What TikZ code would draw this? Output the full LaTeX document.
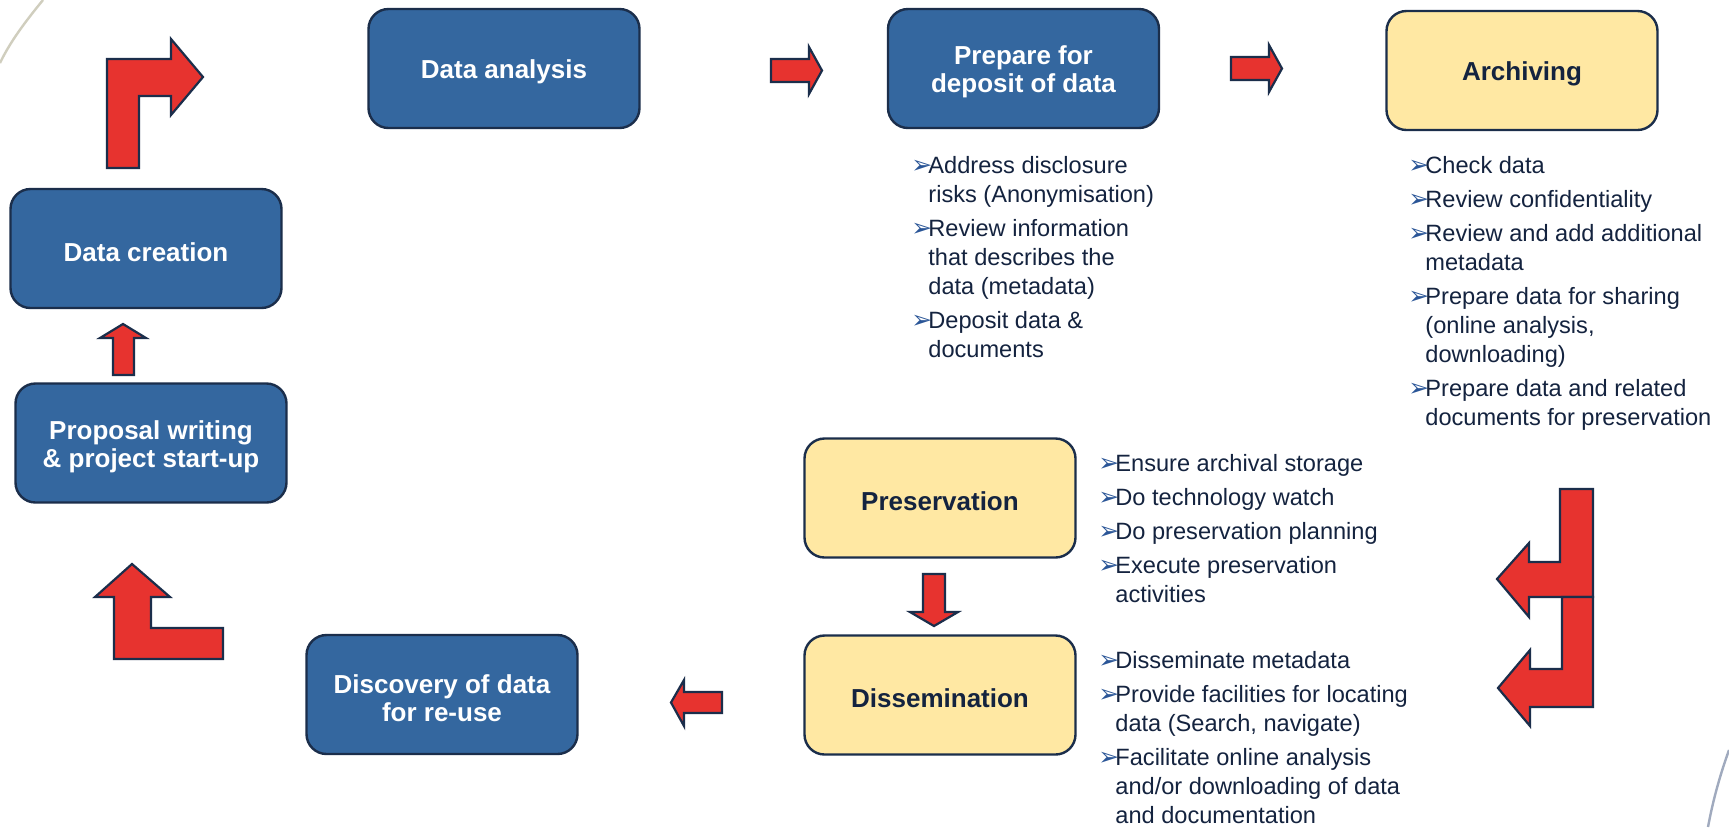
\documentclass[tikz,border=0pt]{standalone}
\usepackage{fontspec}
\setmainfont{Liberation Sans}
\newfontfamily\djfont{DejaVu Sans}
\definecolor{boxblue}{HTML}{34679F}
\definecolor{boxline}{HTML}{1B2E4B}
\definecolor{boxyellow}{HTML}{FFE8A3}
\definecolor{navytext}{HTML}{14233F}
\definecolor{arrowred}{HTML}{E7332F}
\definecolor{bulblue}{HTML}{2A5597}
\newcommand{\bul}{\makebox[8.5pt][l]{\color{bulblue}\djfont\fontsize{12.5}{12.5}\selectfont ➢}}
\newcommand{\ind}{\hspace*{8.5pt}}
\newcommand{\tstrut}{\rule{0pt}{13pt}}
\tikzset{
  stagebox/.style={draw=boxline, line width=1.2pt, rounded corners=10pt,
    minimum width=135.5pt, minimum height=59.5pt, align=center, inner sep=2pt,
    font=\bfseries\fontsize{13}{14}\selectfont},
  bluebox/.style={stagebox, fill=boxblue, text=white},
  yellowbox/.style={stagebox, fill=boxyellow, text=navytext},
  blockarrow/.style={fill=arrowred, draw=boxline, line width=1.1pt, line join=miter},
  itemlist/.style={anchor=north west, inner sep=0pt, align=left, text=navytext,
    font=\fontsize{11.8}{14.5}\selectfont},
  cornerline/.style={line width=1.2pt}
}
\begin{document}
\begin{tikzpicture}[x=0.5pt, y=-0.5pt]
\useasboundingbox (0,0) rectangle (1729,827);
\fill[white] (0,0) rectangle (1729,827);
% decorative corner lines
\draw[cornerline, color={rgb,255:red,208;green,206;blue,190}] (43,0) .. controls (25,22) and (10,42) .. (0,63);
\draw[cornerline, color={rgb,255:red,160;green,170;blue,190}] (1729,750) .. controls (1720,775) and (1713,800) .. (1708,827);

% stage boxes
\node[bluebox] (da) at (504,68.5) {\tstrut Data analysis};
\node[bluebox] (pd) at (1023.5,68.5) {\tstrut Prepare for\\deposit of data};
\node[yellowbox] (ar) at (1522,70.5) {\tstrut Archiving};
\node[bluebox] (dc) at (146,248.5) {\tstrut Data creation};
\node[bluebox] (pw) at (151,443) {\tstrut Proposal writing\\\& project start-up};
\node[yellowbox] (pr) at (940,498) {\tstrut Preservation};
\node[yellowbox] (di) at (940,695) {\tstrut Dissemination};
\node[bluebox] (dr) at (442,694.5) {\tstrut Discovery of data\\for re-use};

% item lists
\node[itemlist] (pdlist) at (911,156) {\bul Address disclosure\\
\ind risks (Anonymisation)\\[2.5pt]
\bul Review information\\
\ind that describes the\\
\ind data (metadata)\\[2.5pt]
\bul Deposit data \&\\
\ind documents};

\node[itemlist] (arlist) at (1408,156) {\bul Check data\\[2.5pt]
\bul Review confidentiality\\[2.5pt]
\bul Review and add additional\\
\ind metadata\\[2.5pt]
\bul Prepare data for sharing\\
\ind (online analysis,\\
\ind downloading)\\[2.5pt]
\bul Prepare data and related\\
\ind documents for preservation};

\node[itemlist] (prlist) at (1098,454) {\bul Ensure archival storage\\[2.5pt]
\bul Do technology watch\\[2.5pt]
\bul Do preservation planning\\[2.5pt]
\bul Execute preservation\\
\ind activities};

\node[itemlist] (dilist) at (1098,651) {\bul Disseminate metadata\\[2.5pt]
\bul Provide facilities for locating\\
\ind data (Search, navigate)\\[2.5pt]
\bul Facilitate online analysis\\
\ind and/or downloading of data\\
\ind and documentation};

% block arrows
% data creation -> data analysis (bent)
\draw[blockarrow] (107,168) -- (107,59) -- (171,59) -- (171,39) -- (203,77) -- (171,115) -- (171,96) -- (139,96) -- (139,168) -- cycle;
% data analysis -> prepare
\draw[blockarrow] (771,59) -- (809,59) -- (809,47) -- (822,70.5) -- (809,94) -- (809,82) -- (771,82) -- cycle;
% prepare -> archiving
\draw[blockarrow, shift={(460,-2)}] (771,59) -- (809,59) -- (809,47) -- (822,70.5) -- (809,94) -- (809,82) -- (771,82) -- cycle;
% archiving -> preservation / dissemination (double bent)
\draw[blockarrow] (1560,489) -- (1593,489) -- (1593,597) -- (1529,597) -- (1529,617) -- (1497,579) -- (1529,543) -- (1529,562) -- (1560,562) -- cycle;
\draw[blockarrow] (1562,597) -- (1593,597) -- (1593,707) -- (1530,707) -- (1530,726) -- (1498,688) -- (1530,650) -- (1530,669) -- (1562,669) -- cycle;
% preservation -> dissemination
\draw[blockarrow] (923,574) -- (945,574) -- (945,612) -- (958,612) -- (934,626) -- (910,612) -- (923,612) -- cycle;
% dissemination -> discovery
\draw[blockarrow] (722,692) -- (722,713) -- (684,713) -- (684,726) -- (671,702.5) -- (684,680) -- (684,692) -- cycle;
% discovery -> proposal (bent)
\draw[blockarrow] (132,564) -- (170,597) -- (151,597) -- (151,628) -- (223,628) -- (223,659) -- (114,659) -- (114,597) -- (95,597) -- cycle;
% proposal -> data creation
\draw[blockarrow] (113,375) -- (113,338) -- (100,338) -- (123,324) -- (146,338) -- (134,338) -- (134,375) -- cycle;
\end{tikzpicture}
\end{document}
